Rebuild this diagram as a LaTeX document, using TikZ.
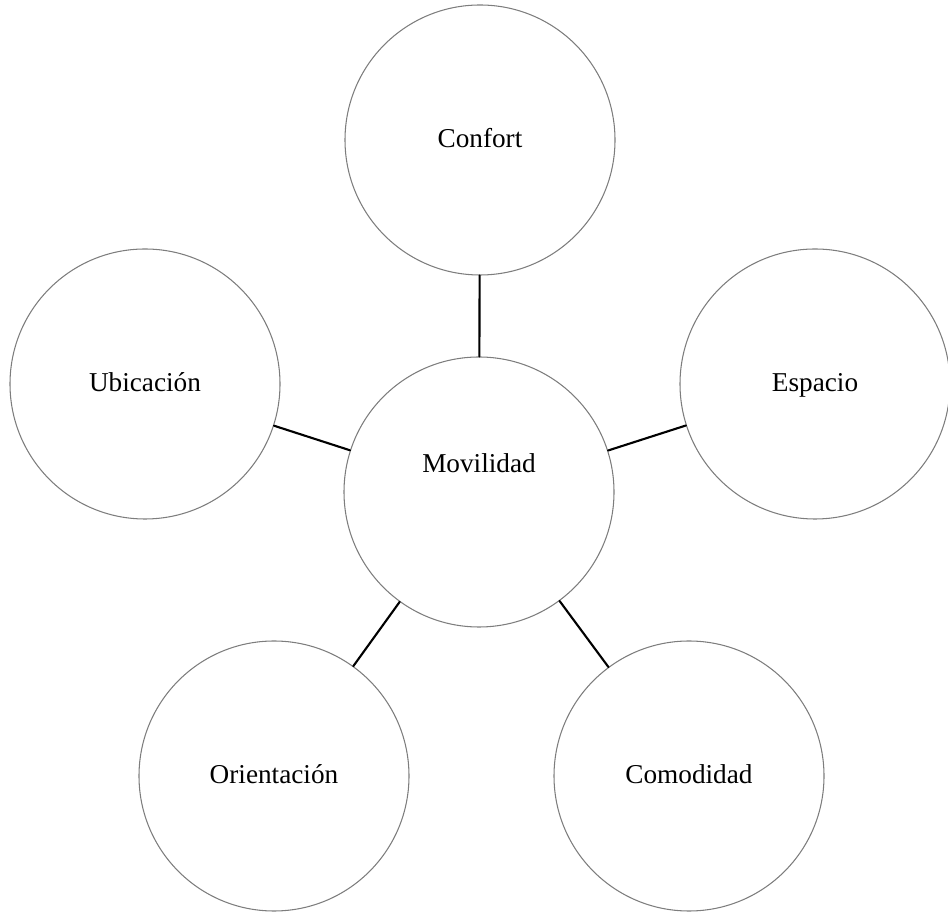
\documentclass[tikz,border=0pt]{standalone}
\usepackage{fontspec}
\setmainfont{Liberation Serif}
\usetikzlibrary{positioning}
\definecolor{ringgray}{RGB}{125,125,125}

\begin{document}
\begin{tikzpicture}[line cap=round,line join=round,
  theme/.style={circle,draw=ringgray,line width=.6pt,minimum size=5.4cm,
   inner sep=0pt,text height=2.2ex,text depth=.45ex,
   font=\fontsize{15.5}{18}\selectfont},
  link/.style={black,line width=1.2pt}]
 \useasboundingbox (0,0) rectangle (18.96,18.24);
 \node[theme,
  label={[font=\fontsize{15.5}{18}\selectfont,yshift=.58cm]center:Movilidad}]
  (movilidad) at (9.58,8.40) {};
 \node[theme] (confort) at (9.60,15.44) {Confort};
 \node[theme] (ubicacion) at (2.90,10.56) {Ubicación};
 \node[theme] (espacio) at (16.30,10.56) {Espacio};
 \node[theme] (orientacion) at (5.48,2.72) {Orientación};
 \node[theme] (comodidad) at (13.78,2.72) {Comodidad};
 \draw[link] (movilidad) -- (confort);
 \draw[link] (movilidad) -- (ubicacion);
 \draw[link] (movilidad) -- (espacio);
 \draw[link] (movilidad) -- (orientacion);
 \draw[link] (movilidad) -- (comodidad);
\end{tikzpicture}
\end{document}
